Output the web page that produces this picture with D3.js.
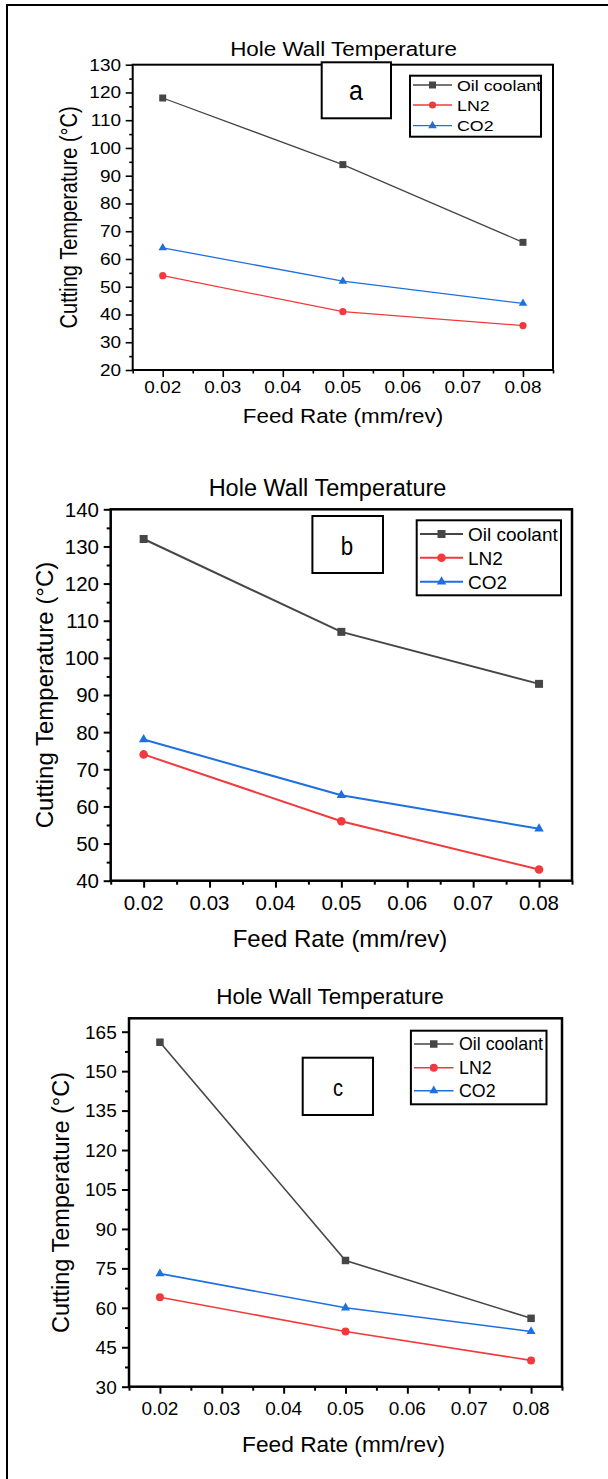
<!DOCTYPE html>
<html>
<head>
<meta charset="utf-8">
<script src="https://cdn.jsdelivr.net/npm/d3@7"></script>
<style>
  html, body { margin: 0; padding: 0; background: #fff; }
  svg { display: block; }
  text { font-family: "Liberation Sans", Arial, sans-serif; fill: #000; }
</style>
</head>
<body>
<svg id="chart" width="608" height="1479"></svg>
<script>
// ---------------- DATA ----------------
const feedRates = [0.02, 0.05, 0.08];
const seriesNames = ["Oil coolant", "LN2", "CO2"];
const xTickValues = [0.02, 0.03, 0.04, 0.05, 0.06, 0.07, 0.08];
const xTickLabels = ["0.02", "0.03", "0.04", "0.05", "0.06", "0.07", "0.08"];
const chartTitle = "Hole Wall Temperature";
const xAxisTitle = "Feed Rate (mm/rev)";
const yAxisTitle = "Cutting Temperature (\u00B0C)";
const panelLetters = ["a", "b", "c"];

// Panel a
const oilA = [118, 94, 66];
const ln2A = [54, 41, 36];
const co2A = [64, 52, 44];
const yTicksA = [20, 30, 40, 50, 60, 70, 80, 90, 100, 110, 120, 130];
// Panel b
const oilB = [132, 107, 93];
const ln2B = [74, 56, 43];
const co2B = [78, 63, 54];
const yTicksB = [40, 50, 60, 70, 80, 90, 100, 110, 120, 130, 140];
// Panel c
const oilC = [161, 78, 56];
const ln2C = [64, 51, 40];
const co2C = [73, 60, 51];
const yTicksC = [30, 45, 60, 75, 90, 105, 120, 135, 150, 165];

// ---------------- STYLE / LAYOUT ----------------
const colors = ["#464646", "#f03a3c", "#1f6fe0"];
const symbols = [d3.symbolSquare, d3.symbolCircle, d3.symbolTriangle];

const panels = [
  { letter: panelLetters[0], series: [oilA, ln2A, co2A], yTicks: yTicksA, yMinorStep: 5,
    yDomain: [20, 130], xDomain: [0.015, 0.085],
    frame: {l: 132.7, r: 553, t: 64.7, b: 370}, sx: 1.15,
    title: {x: 343.5, y: 56, size: 19.5},
    tick: {size: 16.5, xBase: 393, yRight: 121},
    xlab: {x: 343, y: 423, size: 19.5}, ylab: {x: 77, size: 20},
    box: {x0: 321.7, x1: 391, y0: 62.3, y1: 118.3, tx: 356, ty: 99.5, size: 28, lsx: 0.78},
    legend: {x0: 410, x1: 541, y0: 75.7, y1: 136.7, l0: 413, l1: 452, tx: 457, rows: [85, 105, 125.7], size: 15.5},
    lw: 1.3, ms: [7, 3.6, 8.5], axisW: 2, major: 7, minor: 3.5 },
  { letter: panelLetters[1], series: [oilB, ln2B, co2B], yTicks: yTicksB, yMinorStep: 5,
    yDomain: [40, 140], xDomain: [0.015, 0.085],
    frame: {l: 110.7, r: 572, t: 509.3, b: 880.7}, sx: 1.0,
    title: {x: 327.5, y: 496, size: 23.5},
    tick: {size: 20.5, xBase: 910, yRight: 99},
    xlab: {x: 340, y: 946.5, size: 24}, ylab: {x: 53, size: 24},
    box: {x0: 312.4, x1: 383, y0: 516, y1: 573, tx: 347, ty: 555, size: 26, lsx: 0.86},
    legend: {x0: 416.7, x1: 561, y0: 520.3, y1: 595.3, l0: 420, l1: 463, tx: 468, rows: [534, 557.7, 581.7], size: 19},
    lw: 2, ms: [8, 4.3, 9.5], axisW: 2.5, major: 7, minor: 4 },
  { letter: panelLetters[2], series: [oilC, ln2C, co2C], yTicks: yTicksC, yMinorStep: 7.5,
    yDomain: [30, 170.1], xDomain: [0.015, 0.085],
    frame: {l: 129, r: 562, t: 1018.3, b: 1386.7}, sx: 1.0,
    title: {x: 330, y: 1004, size: 22.5},
    tick: {size: 19, xBase: 1415, yRight: 116.7},
    xlab: {x: 343.6, y: 1451.5, size: 22.7}, ylab: {x: 68.5, size: 23.5},
    box: {x0: 302.7, x1: 373, y0: 1057.7, y1: 1115, tx: 338, ty: 1096, size: 24.5, lsx: 0.82},
    legend: {x0: 410.9, x1: 546.5, y0: 1030.7, y1: 1104.3, l0: 414, l1: 453.5, tx: 459, rows: [1044, 1067.7, 1090.7], size: 17.8},
    lw: 1.6, ms: [7.5, 4, 9], axisW: 2.5, major: 7, minor: 4 }
];

const svg = d3.select("#chart");

// outer border (top and left visible)
svg.append("path").attr("d", "M7,1479V5H608").attr("fill", "none").attr("stroke", "#000").attr("stroke-width", 2);

function symbolPath(i, ms) {
  let area;
  if (i === 0) area = ms[0] * ms[0];
  else if (i === 1) area = Math.PI * ms[1] * ms[1];
  else area = ms[2] * ms[2] * Math.sqrt(3) / 4;
  return d3.symbol(symbols[i]).size(area)();
}

panels.forEach(p => {
  const g = svg.append("g");
  const f = p.frame;
  const x = d3.scaleLinear().domain(p.xDomain).range([f.l, f.r]);
  const y = d3.scaleLinear().domain(p.yDomain).range([f.b, f.t]);

  // minor ticks
  const xMinor = d3.range(p.xDomain[0], p.xDomain[1] + 1e-9, 0.01).map(v => +v.toFixed(4));
  const yMinor = d3.range(p.yTicks[0] + p.yMinorStep, p.yDomain[1] + 1e-9, p.yMinorStep)
                   .filter(v => !p.yTicks.includes(v));

  const xMinorAxis = d3.axisBottom(x).tickValues(xMinor).tickSize(p.minor).tickFormat("");
  const yMinorAxis = d3.axisLeft(y).tickValues(yMinor).tickSize(p.minor).tickFormat("");
  const xMajorAxis = d3.axisBottom(x).tickValues(xTickValues).tickSize(p.major).tickFormat("");
  const yMajorAxis = d3.axisLeft(y).tickValues(p.yTicks).tickSize(p.major).tickFormat("");

  [[xMinorAxis, "x"], [xMajorAxis, "x"], [yMinorAxis, "y"], [yMajorAxis, "y"]].forEach(([ax, t]) => {
    const ag = g.append("g")
      .attr("transform", t === "x" ? `translate(0,${f.b})` : `translate(${f.l},0)`)
      .call(ax);
    ag.select(".domain").remove();
    ag.selectAll("line").attr("stroke", "#000").attr("stroke-width", p.axisW * 0.8);
  });

  // frame
  g.append("rect").attr("x", f.l).attr("y", f.t).attr("width", f.r - f.l).attr("height", f.b - f.t)
    .attr("fill", "none").attr("stroke", "#000").attr("stroke-width", p.axisW);

  // tick labels
  g.selectAll(".xtl").data(xTickValues).join("text")
    .attr("transform", (d) => `translate(${x(d)},${p.tick.xBase}) scale(${p.sx},1)`)
    .attr("text-anchor", "middle").attr("font-size", p.tick.size)
    .text((d, i) => xTickLabels[i]);
  g.selectAll(".ytl").data(p.yTicks).join("text")
    .attr("transform", d => `translate(${p.tick.yRight},${y(d) + p.tick.size * 0.36}) scale(${p.sx},1)`)
    .attr("text-anchor", "end").attr("font-size", p.tick.size)
    .text(d => String(d));

  // title
  g.append("text").attr("transform", `translate(${p.title.x},${p.title.y}) scale(${p.sx},1)`)
    .attr("text-anchor", "middle").attr("font-size", p.title.size).text(chartTitle);
  // axis titles
  g.append("text").attr("transform", `translate(${p.xlab.x},${p.xlab.y}) scale(${p.sx},1)`)
    .attr("text-anchor", "middle").attr("font-size", p.xlab.size).text(xAxisTitle);
  g.append("text").attr("transform", `translate(${p.ylab.x},${(f.t + f.b) / 2}) scale(${p.sx},1) rotate(-90)`)
    .attr("text-anchor", "middle").attr("font-size", p.ylab.size).text(yAxisTitle);

  // series
  const line = d3.line().x((d, i) => x(feedRates[i])).y(d => y(d));
  p.series.forEach((vals, si) => {
    g.append("path").datum(vals).attr("d", line)
      .attr("fill", "none").attr("stroke", colors[si]).attr("stroke-width", p.lw);
  });
  p.series.forEach((vals, si) => {
    g.selectAll(null).data(vals).join("path")
      .attr("transform", (d, i) => `translate(${x(feedRates[i])},${y(d)})`)
      .attr("d", symbolPath(si, p.ms))
      .attr("fill", colors[si]);
  });

  // letter box
  const b = p.box;
  g.append("rect").attr("x", b.x0).attr("y", b.y0).attr("width", b.x1 - b.x0).attr("height", b.y1 - b.y0)
    .attr("fill", "#fff").attr("stroke", "#000").attr("stroke-width", 2);
  g.append("text").attr("transform", `translate(${b.tx},${b.ty}) scale(${b.lsx * p.sx},1)`)
    .attr("text-anchor", "middle").attr("font-size", b.size).text(p.letter);

  // legend
  const L = p.legend;
  g.append("rect").attr("x", L.x0).attr("y", L.y0).attr("width", L.x1 - L.x0).attr("height", L.y1 - L.y0)
    .attr("fill", "#fff").attr("stroke", "#000").attr("stroke-width", 2);
  seriesNames.forEach((name, si) => {
    const ry = L.rows[si];
    g.append("line").attr("x1", L.l0).attr("x2", L.l1).attr("y1", ry).attr("y2", ry)
      .attr("stroke", colors[si]).attr("stroke-width", p.lw);
    g.append("path").attr("transform", `translate(${(L.l0 + L.l1) / 2},${ry})`)
      .attr("d", symbolPath(si, p.ms)).attr("fill", colors[si]);
    g.append("text").attr("transform", `translate(${L.tx},${ry + L.size * 0.36}) scale(${p.sx},1)`)
      .attr("font-size", L.size).text(name);
  });
});
</script>
</body>
</html>
